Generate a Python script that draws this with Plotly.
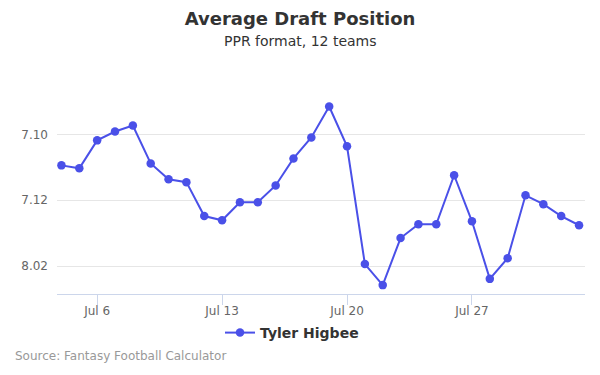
import plotly.graph_objects as go

dates = ["2019-07-%02d" % d for d in range(4, 32)] + ["2019-08-01", "2019-08-02"]
adp = [82.94, 83.03, 82.18, 81.91, 81.73, 82.88, 83.36, 83.45, 84.48, 84.61,
       84.06, 84.06, 83.55, 82.73, 82.09, 81.15, 82.36, 85.94, 86.58, 85.15,
       84.73, 84.73, 83.24, 84.64, 86.39, 85.76, 83.85, 84.12, 84.48, 84.76]
y_tickvals = [80, 82, 84, 86]
y_ticktext = ["", "7.10", "7.12", "8.02"]
x_tickvals = ["2019-07-06", "2019-07-13", "2019-07-20", "2019-07-27"]
x_ticktext = ["Jul 6", "Jul 13", "Jul 20", "Jul 27"]

color = "#4a50e8"
font = "DejaVu Sans"

PL, PR, PT, PB = 57, 585, 68, 294
def py(p):
    return (PB - p) / (PB - PT)
def px(p):
    return (p - PL) / (PR - PL)

fig = go.Figure()
fig.add_trace(go.Scatter(
    x=dates, y=adp, mode="lines+markers", name="Tyler Higbee",
    line=dict(color=color, width=2),
    marker=dict(color=color, size=8.5),
))

fig.update_layout(
    width=600, height=375,
    margin=dict(l=PL, r=600 - PR, t=PT, b=375 - PB),
    paper_bgcolor="white", plot_bgcolor="white",
    font=dict(family=font, color="#666666", size=12),
    title=dict(
        text="<b>Average Draft Position</b>",
        x=0.5, xanchor="center", y=1 - 19 / 375, yanchor="middle",
        font=dict(family=font, size=18, color="#333333"),
    ),
    showlegend=True,
    legend=dict(
        orientation="h", x=px(292), xanchor="center", y=py(333), yanchor="middle",
        font=dict(family=font, size=14, color="#333333", weight="bold"),
        bgcolor="rgba(0,0,0,0)",
    ),
    xaxis=dict(
        type="date",
        range=["2019-07-03 18:00", "2019-08-02 08:00"],
        tickvals=x_tickvals, ticktext=x_ticktext,
        showgrid=False, showline=True, linecolor="#ccd6eb", linewidth=1,
        ticks="outside", ticklen=10, tickcolor="#ccd6eb",
        tickfont=dict(family=font, size=12, color="#666666"),
        ticklabelstandoff=-4,
        zeroline=False,
    ),
    yaxis=dict(
        range=[86.85, 79.98],
        tickvals=y_tickvals, ticktext=y_ticktext,
        showgrid=True, gridcolor="#e6e6e6", gridwidth=1,
        showline=False, zeroline=False, ticks="",
        tickfont=dict(family=font, size=12, color="#666666"),
        ticklabelstandoff=8,
    ),
    annotations=[
        dict(text="PPR format, 12 teams", x=px(300), xref="paper", xanchor="center",
             y=py(41), yref="paper", yanchor="middle", showarrow=False,
             font=dict(family=font, size=14, color="#333333")),
        dict(text="Source: Fantasy Football Calculator", x=px(13), xref="paper",
             xanchor="left", y=py(356), yref="paper", yanchor="middle",
             showarrow=False, font=dict(family=font, size=12, color="#999999")),
    ],
)

fig.write_html("out.html", config={"displayModeBar": False},
               post_script="document.body.style.margin='0';")
